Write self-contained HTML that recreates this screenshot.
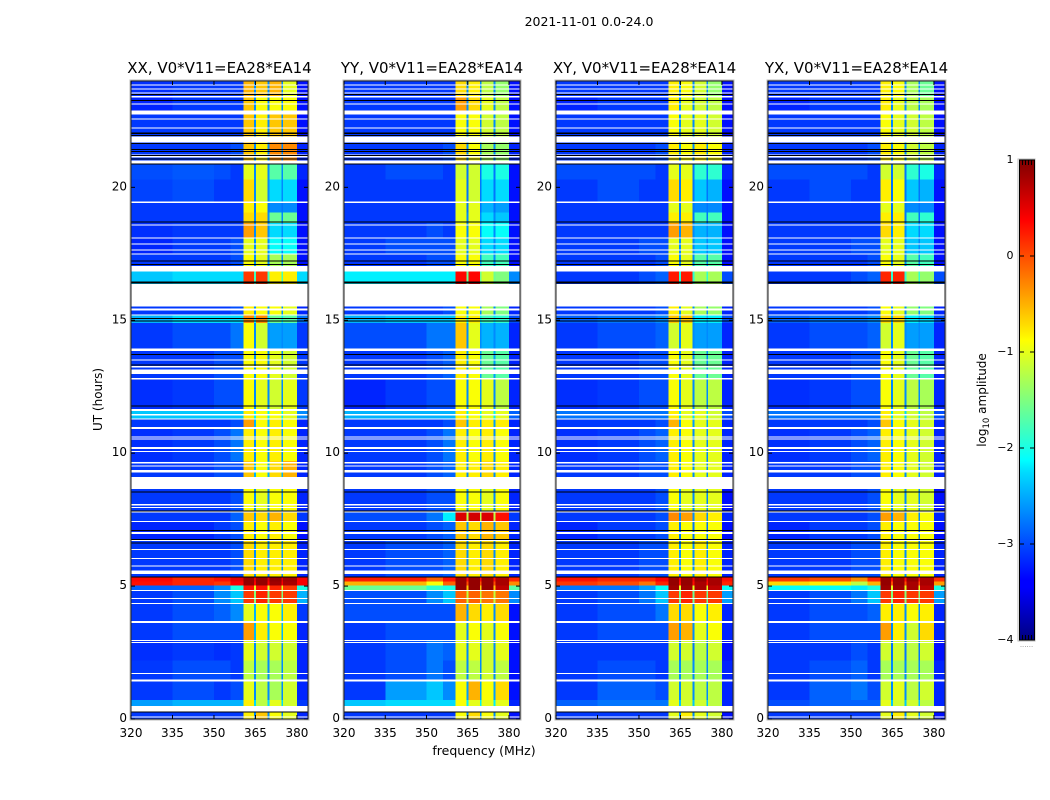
<!DOCTYPE html>
<html lang="en">
<head>
<meta charset="utf-8">
<title>2021-11-01 0.0-24.0</title>
<style>
html,body{margin:0;padding:0;background:#fff;width:1050px;height:800px;overflow:hidden}
svg{display:block}
text{font-family:"DejaVu Sans","Liberation Sans",sans-serif;fill:#000}
</style>
</head>
<body>
<svg id="figure" xmlns="http://www.w3.org/2000/svg" width="1050" height="800" viewBox="0 0 1050 800">
  <defs>
    <linearGradient id="jet-gradient" x1="0" y1="1" x2="0" y2="0">
      <stop offset="0" stop-color="#00007f"/>
      <stop offset="0.11" stop-color="#0000ff"/>
      <stop offset="0.125" stop-color="#0000ff"/>
      <stop offset="0.35" stop-color="#00dcfe"/>
      <stop offset="0.375" stop-color="#00ffff"/>
      <stop offset="0.5" stop-color="#7fff7f"/>
      <stop offset="0.625" stop-color="#ffff00"/>
      <stop offset="0.64" stop-color="#ffee00"/>
      <stop offset="0.875" stop-color="#ff0000"/>
      <stop offset="1" stop-color="#7f0000"/>
    </linearGradient>
  </defs>
  <text x="589" y="26" font-size="12.5" text-anchor="middle">2021-11-01 0.0-24.0</text>
  <text x="484" y="755" font-size="12.5" text-anchor="middle">frequency (MHz)</text>
  <text transform="translate(102,399.5) rotate(-90)" font-size="12" text-anchor="middle">UT (hours)</text>
  <g id="panels"></g>
  <g id="colorbar">
    <rect x="1018" y="159" width="17" height="482" fill="none" stroke="#bbb" stroke-width="1"/>
    <rect x="1019.5" y="160" width="15" height="480" fill="url(#jet-gradient)" stroke="#000" stroke-width="1"/>
    <text transform="translate(986,400) rotate(-90)" font-size="12" text-anchor="middle">log<tspan font-size="8.5" dy="3">10</tspan><tspan dy="-3"> amplitude</tspan></text>
    <text x="1026.5" y="647" font-size="7" text-anchor="middle" style="fill:#888">......</text>
  </g>
</svg>
<script>
/* Frequency segments (MHz): background, ramp, four RFI bands and the thin gaps between them */
const freqEdges = [320, 335, 350, 356, 360.6, 364.5, 365.2, 369.4, 370, 374.4, 375, 380, 384];
/* UT (hours) edges of the rows in the value tables below */
const rowEdges = [0, 0.38, 0.72, 1.45, 2.2, 2.93, 3.65, 4.34, 4.83, 5.02, 5.18, 5.35, 6.7, 7.41, 7.8, 8.9, 9.7, 10.92, 11.28, 11.62, 12.8, 13.9, 14.9, 15.2, 15.9, 16.84, 17.5, 18.1, 18.65, 19.05, 19.44, 20.3, 20.95, 21.8, 22.8, 23.44, 24];
const panelTitles = ["XX, V0*V11=EA28*EA14", "YY, V0*V11=EA28*EA14", "XY, V0*V11=EA28*EA14", "YX, V0*V11=EA28*EA14"];
const xTickLabels = [320, 335, 350, 365, 380];
const yTickLabels = [0, 5, 10, 15, 20];
const colorbarTicks = [1, 0, -1, -2, -3, -4];
/* log10 amplitude read per row: bg-left, bg-mid, bg-right, ramp, band A, gaps, band B, band C, band D, right edge */
const xxValues = [
[-3.1,-3.1,-3.1,-3.1,-.8,-2.7,-.6,-.9,-1,-3.2],
[-2.6,-2.5,-2.5,-2.5,-.8,-2.3,-1.2,-1,-1.1,-3.1],
[-3.1,-3,-3.1,-3,-1,-2.7,-1.2,-1.3,-1.1,-3.2],
[-3.1,-3,-3,-3.1,-1.2,-2.7,-1.3,-1.3,-1.2,-3.2],
[-3.15,-3.1,-3.15,-3.1,-1,-2.7,-1.1,-1.1,-1.1,-3.2],
[-3.1,-3,-3,-3,-.4,-2.5,-.8,-.9,-.9,-3.2],
[-3.1,-3,-2.9,-2.7,-1,-2.5,-.9,-.9,-.8,-3.1],
[-3.1,-3,-2.7,-2.4,.1,-1.5,.2,.1,.1,-2.5],
[-2.9,-2.9,-2.7,-2,.3,-1,.3,.2,.1,-2],
[.3,.2,.1,.4,.9,.4,.9,.85,.8,.4],
[.35,.2,.3,.5,.9,.5,.9,.9,.85,.4],
[-3.1,-3.1,-3.1,-3,-.7,-2.7,-.8,-.8,-.8,-3.2],
[-3.2,-3.2,-3.1,-3,-.8,-2.8,-.9,-.8,-.9,-3.3],
[-3.1,-3.1,-3.1,-2.9,-.6,-2.7,-.7,-.5,-.7,-3.1],
[-3.1,-3.1,-3.1,-3,-.9,-2.7,-1,-.9,-.9,-3.2],
[-3.1,-3.1,-3,-3,-.6,-2.5,-.9,-.7,-.5,-3.2],
[-3.15,-3.1,-3,-2.8,-.8,-2.7,-.9,-.8,-.9,-3.2],
[-3.1,-3.1,-3.1,-3,-.4,-2.5,-.9,-.8,-.9,-3.2],
[-2.4,-2.4,-2.4,-2.4,-.8,-2.2,-.9,-.9,-1,-2.7],
[-3.15,-3.1,-3,-3,-.9,-2.7,-1,-1.1,-1,-3.1],
[-3.1,-3.1,-3,-3,-.9,-2.7,-.9,-1,-1.1,-3.1],
[-3.1,-3,-3,-2.8,-.9,-2.7,-1.1,-2.6,-2.6,-3.1],
[-2.5,-2.3,-2.3,-2.3,-.3,-2.2,-.3,-1.6,-1.7,-2.8],
[-3.1,-3.1,-3.1,-3,-.8,-2.7,-.9,-.9,-1,-3.2],
[-2.4,-2.3,-2.3,-2.3,.1,-1.8,.1,-.8,-.8,-2.3],
[-3.1,-3.1,-3.1,-3,-.9,-2.7,-1,-1.3,-1.3,-3.3],
[-3.2,-3.1,-3.1,-3,-1,-2.7,-1,-2.1,-2.1,-3.3],
[-3.15,-3.1,-3.1,-3.1,-.4,-2.7,-.6,-2.3,-2.3,-3.3],
[-3.1,-3.1,-3.1,-3.1,-.7,-2.7,-.7,-1.6,-1.6,-3.3],
[-3.1,-3.1,-3.1,-3.1,-.8,-2.8,-.9,-2.7,-2.7,-3.3],
[-3.05,-3,-3.1,-3.1,-.7,-2.7,-1.1,-2.3,-2.3,-3.3],
[-3,-2.95,-3,-3.1,-1,-2.7,-1,-1.7,-1.7,-3.2],
[-3.1,-3.1,-3.1,-3,-.6,-2.7,-.8,-.3,-.3,-3.2],
[-3.1,-3.1,-3.1,-3.1,-.6,-2.7,-.8,-.6,-.6,-3.3],
[-3.2,-3.1,-3.1,-3.1,-.6,-2.7,-.9,-.9,-.9,-3.3],
[-3.15,-3.1,-3.1,-3.1,-.5,-2.7,-.6,-.5,-1,-3.3]
];
const yyValues = [
[-3.1,-3.1,-3.1,-3.1,-.9,-2.7,-.7,-.9,-1,-3.3],
[-2.4,-2.3,-2.3,-2.3,-.9,-2.2,-1,-1,-1,-3.2],
[-3.1,-2.6,-2.4,-2.7,-.9,-2.6,-.5,-.9,-.7,-3.3],
[-3.1,-3,-2.8,-3,-1.2,-2.7,-1.2,-1.1,-1.2,-3.3],
[-3.1,-3,-2.8,-2.9,-1,-2.7,-1,-1.1,-1,-3.3],
[-3.1,-3,-3,-3,-1,-2.7,-.9,-1,-.9,-3.3],
[-3,-3,-3,-3,-.5,-2.7,-.7,-.8,-.7,-3.3],
[-3,-3,-2.7,-2.4,-.1,-1.2,-.1,-.2,-.2,-2.7],
[-1.6,-1.6,-1.9,-2,.9,-.6,.9,.9,.7,-1.7],
[-.5,-.5,-.9,-.1,.9,0,.9,.9,.8,-.3],
[.25,.25,-.1,.3,.9,.3,.9,.9,.8,.2],
[-3.1,-3,-3,-2.9,-.7,-2.7,-.8,-.7,-.8,-3.2],
[-3.1,-3.1,-3,-2.9,-.6,-2.7,-.7,-.5,-.6,-3.2],
[-3,-3,-2.8,-2.2,.55,-1.2,.6,.55,.3,-3.1],
[-3.1,-3.1,-3,-3,-.9,-2.7,-.9,-1,-.9,-3.2],
[-3.1,-3.1,-3,-2.9,-.8,-2.7,-.8,-.7,-.8,-3.2],
[-3.1,-3.1,-3,-2.8,-.8,-2.7,-.9,-.8,-.9,-3.2],
[-3.1,-3.1,-3.1,-3,-.6,-2.6,-.8,-.8,-.8,-3.2],
[-2.5,-2.5,-2.5,-2.5,-.8,-2.2,-.9,-1,-1,-2.9],
[-3.2,-3.1,-3,-3,-.9,-2.7,-.9,-1,-1.2,-3.2],
[-3.1,-3.1,-3,-2.9,-.8,-2.6,-.9,-1.6,-1.7,-3.2],
[-3,-3,-2.8,-2.8,-.6,-2.7,-1,-2.5,-2.5,-3.2],
[-2.5,-2.4,-2.4,-2.4,-.8,-2.2,-.8,-1.8,-1.9,-3],
[-3.1,-3.1,-3.1,-3,-.9,-2.7,-.9,-1.3,-1.5,-3.2],
[-2.2,-2.2,-2.2,-2.2,.35,-1.6,.35,-1.1,-1.5,-2.7],
[-3.1,-3.1,-3,-3,-.9,-2.7,-.9,-1.8,-1.8,-3.3],
[-3.1,-3,-3,-3,-1,-2.7,-1,-2.3,-2.3,-3.3],
[-3.1,-3.1,-3,-3.1,-.9,-2.7,-.9,-2.1,-2.1,-3.3],
[-3.1,-3.1,-3.1,-3.1,-1,-2.7,-1,-2.3,-2.4,-3.3],
[-3.1,-3.1,-3.1,-3.1,-1,-2.8,-1,-2.5,-2.6,-3.3],
[-3.1,-3.1,-3.1,-3.1,-1,-2.8,-1.1,-2.3,-2.3,-3.3],
[-3.1,-3,-3,-3.1,-1.1,-2.8,-1.1,-2,-2,-3.3],
[-3.1,-3.1,-3.1,-3,-.7,-2.7,-.9,-1.3,-1.4,-3.2],
[-3.1,-3.1,-3.1,-3.1,-.9,-2.7,-.9,-1.1,-1.2,-3.3],
[-3.1,-3.1,-3.1,-3.1,-.4,-2.7,-.7,-1,-1.2,-3.3],
[-3.1,-3.1,-3.1,-3.1,-.7,-2.7,-.8,-1.2,-1.4,-3.3]
];
const xyValues = [
[-3.1,-3.1,-3.1,-3.1,-1,-2.7,-.8,-1,-1.1,-3.3],
[-2.9,-2.8,-2.8,-2.8,-1,-2.4,-1.1,-1.1,-1.2,-3.2],
[-3.1,-2.9,-2.9,-3,-1.1,-2.7,-1.1,-1.2,-1.2,-3.2],
[-3.1,-3,-3,-3.1,-1.3,-2.7,-1.3,-1.3,-1.3,-3.2],
[-3.1,-3.1,-3.1,-3.1,-1.1,-2.8,-1.1,-1.2,-1.1,-3.3],
[-3.1,-3,-3,-3,-.4,-2.7,-.5,-1,-.9,-3.2],
[-3.1,-3,-3,-2.8,-.7,-2.7,-.7,-.9,-.8,-3.2],
[-3.1,-3,-2.8,-2.4,.1,-1.6,.2,.1,.1,-2.6],
[-2.8,-2.8,-2.6,-2.1,.85,-1,.85,.8,.7,-2.1],
[.1,0,-.2,.2,.9,.3,.9,.8,.8,.2],
[.3,.2,.2,.4,.9,.4,.9,.9,.8,.3],
[-3.1,-3.1,-3,-3,-.8,-2.7,-.9,-.8,-.9,-3.2],
[-3.2,-3.1,-3.1,-3,-.8,-2.8,-.9,-.9,-.9,-3.3],
[-3.1,-3.1,-3.1,-3,-.3,-2.7,-.4,-.7,-.8,-3.2],
[-3.1,-3.1,-3.1,-3,-.9,-2.7,-1,-1,-1,-3.3],
[-3.1,-3.1,-3,-3,-.8,-2.7,-.9,-1,-1,-3.2],
[-3.15,-3.1,-3,-2.9,-.8,-2.7,-.9,-1,-1,-3.2],
[-3.1,-3.1,-3.1,-3,-.5,-2.6,-.9,-1,-1,-3.2],
[-2.8,-2.8,-2.8,-2.8,-.8,-2.3,-1,-1,-1.1,-3],
[-3.15,-3.1,-3,-3,-.9,-2.7,-1,-1.2,-1.2,-3.2],
[-3.1,-3.1,-3,-3,-.9,-2.7,-1,-1.6,-1.6,-3.2],
[-3.1,-3,-3,-2.9,-1.1,-2.7,-1,-2.6,-2.6,-3.2],
[-2.9,-2.8,-2.8,-2.7,-.6,-2.5,-.6,-2.2,-2.2,-3],
[-3.1,-3.1,-3.1,-3,-.8,-2.7,-1,-1.3,-1.4,-3.2],
[-3.1,-3.1,-3,-2.9,.25,-1.9,.25,-1.3,-1.3,-3],
[-3.1,-3.1,-3.1,-3,-.9,-2.7,-1,-1.7,-1.7,-3.3],
[-3.1,-3.1,-3,-3,-1,-2.7,-1,-2.4,-2.4,-3.3],
[-3.1,-3.1,-3.1,-3.1,-.4,-2.7,-.5,-2.5,-2.5,-3.3],
[-3.1,-3.1,-3.1,-3.1,-.8,-2.8,-.8,-1.8,-1.8,-3.3],
[-3.1,-3.1,-3.1,-3.1,-1,-2.8,-1,-2.7,-2.7,-3.3],
[-3.1,-3,-3.1,-3.1,-.7,-2.8,-.8,-2.4,-2.5,-3.3],
[-3,-3,-3,-3.1,-1,-2.8,-1,-1.9,-1.9,-3.2],
[-3.1,-3.1,-3.1,-3,-.8,-2.7,-.9,-.8,-.9,-3.2],
[-3.1,-3.1,-3.1,-3.1,-.9,-2.7,-1,-1,-1.1,-3.3],
[-3.2,-3.1,-3.1,-3.1,-.8,-2.7,-1,-1.1,-1.2,-3.3],
[-3.1,-3.1,-3.1,-3.1,-.8,-2.7,-.9,-1.1,-1.4,-3.3]
];
const yxValues = [
[-3.1,-3.1,-3.1,-3.1,-1,-2.7,-.8,-1,-1.1,-3.3],
[-3,-2.9,-2.9,-2.9,-1,-2.4,-1.1,-1.1,-1.2,-3.2],
[-3.1,-2.9,-2.8,-3,-1.1,-2.7,-1,-1.2,-1.1,-3.2],
[-3.1,-3,-2.9,-3.1,-1.3,-2.7,-1.3,-1.3,-1.3,-3.2],
[-3.1,-3.1,-3,-3.1,-1.1,-2.8,-1.1,-1.2,-1.1,-3.3],
[-3.1,-3,-3,-3,-.4,-2.7,-.8,-1.1,-.7,-3.2],
[-3.1,-3,-3,-2.9,-.8,-2.7,-.8,-.9,-.8,-3.2],
[-3.1,-3,-2.8,-2.4,.1,-1.5,.2,.1,.1,-2.6],
[-2.1,-2.1,-2.2,-2,.85,-1,.85,.8,.7,-2],
[-.7,-.8,-1.2,-.5,.9,0,.9,.8,.8,-.4],
[.1,0,-.3,.2,.9,.3,.9,.9,.8,.15],
[-3.1,-3.1,-3,-3,-.8,-2.7,-.9,-.9,-.9,-3.2],
[-3.2,-3.1,-3.1,-3,-.8,-2.8,-.9,-.9,-.9,-3.3],
[-3.1,-3.1,-3.1,-3,-.4,-2.7,-.5,-.8,-.9,-3.2],
[-3.1,-3.1,-3.1,-3,-.9,-2.7,-1,-1,-1.1,-3.3],
[-3.1,-3.1,-3,-3,-.8,-2.7,-.9,-1,-1.1,-3.2],
[-3.15,-3.1,-3,-2.9,-.8,-2.7,-.9,-1,-1.1,-3.2],
[-3.1,-3.1,-3.1,-3,-.6,-2.6,-.9,-1,-1.1,-3.2],
[-2.8,-2.8,-2.8,-2.8,-.8,-2.3,-1,-1.1,-1.2,-3],
[-3.15,-3.1,-3,-3,-.9,-2.7,-1,-1.2,-1.3,-3.2],
[-3.1,-3.1,-3,-3,-.9,-2.7,-1,-1.6,-1.7,-3.2],
[-3.1,-3,-3,-2.9,-1.1,-2.7,-1,-2.6,-2.6,-3.2],
[-2.9,-2.8,-2.8,-2.7,-.7,-2.5,-.7,-2.2,-2.3,-3],
[-3.1,-3.1,-3.1,-3,-.9,-2.7,-1,-1.4,-1.5,-3.2],
[-3.1,-3.1,-3,-2.9,.2,-1.9,.2,-1.3,-1.4,-3],
[-3.1,-3.1,-3.1,-3,-.9,-2.7,-1,-1.7,-1.8,-3.3],
[-3.1,-3.1,-3,-3,-1,-2.7,-1,-2.4,-2.4,-3.3],
[-3.1,-3.1,-3.1,-3.1,-.7,-2.7,-.8,-2.3,-2.3,-3.3],
[-3.1,-3.1,-3.1,-3.1,-.8,-2.8,-.8,-1.8,-1.9,-3.3],
[-3.1,-3.1,-3.1,-3.1,-1,-2.8,-1,-2.7,-2.7,-3.3],
[-3.1,-3,-3.1,-3.1,-.8,-2.8,-.9,-2.4,-2.5,-3.3],
[-3,-3,-3,-3.1,-1.1,-2.8,-1.1,-1.9,-2,-3.2],
[-3.1,-3.1,-3.1,-3,-.8,-2.7,-.9,-1.1,-1.2,-3.2],
[-3.1,-3.1,-3.1,-3.1,-.9,-2.7,-1,-1.1,-1.2,-3.3],
[-3.2,-3.1,-3.1,-3.1,-.8,-2.7,-1,-1.2,-1.3,-3.3],
[-3.1,-3.1,-3.1,-3.1,-.8,-2.7,-.9,-1.3,-1.6,-3.3]
];
/* Flagged (no data) UT intervals, lower then upper hour */
const flaggedRanges = [
[.06,.09],[.28,.49],[1.41,1.48],[1.69,1.73],[2.87,2.9],[2.93,2.97],[3.61,3.68],[4.32,4.36],[4.51,4.55],[4.81,4.85],
[5.45,5.58],[5.74,5.77],[6.01,6.05],[6.35,6.39],[6.69,6.73],[6.95,7.03],[7.41,7.44],[7.76,7.82],[7.93,7.97],[8.04,8.08],
[8.65,9.11],[9.28,9.36],[9.5,9.54],[9.62,9.66],[10.06,10.09],[10.15,10.19],[10.21,10.24],[10.53,10.56],[10.59,10.62],[10.9,10.94],
[10.97,10.99],[11.26,11.3],[11.41,11.48],[11.58,11.67],[12.78,12.82],[12.97,13.14],[13.23,13.27],[13.49,13.53],[13.85,13.93],[15.19,15.22],
[15.37,15.45],[15.52,16.37],[16.84,17.04],[17.48,17.52],[17.63,17.67],[17.86,17.89],[18.08,18.12],[18.57,18.61],[19.42,19.47],[20.9,21.01],
[21.13,21.24],[21.69,21.92],[22.22,22.25],[22.55,22.59],[22.74,22.89],[23.12,23.16],[23.38,23.44],[23.53,23.57],[23.68,23.72],[23.83,23.87]
];
/* Near-zero amplitude integrations drawn as black lines (UT hours) */
const darkLines = [0.27, 5.34, 6.63, 6.75, 7.1, 7.82, 8.53, 11.78, 13.31, 13.71, 14.98, 15.07, 16.4, 16.43, 17.1, 17.22, 18.69, 20.88, 21.07, 21.2, 21.35, 21.43, 21.65, 21.95, 22.02, 22.05, 23.27, 23.49];

const panelValues = [xxValues, yyValues, xyValues, yxValues];
const segmentColumn = [0, 1, 2, 3, 4, 5, 6, 5, 7, 5, 8, 9];
const panelLefts = [131, 344, 556, 768];
const panelWidths = [177, 176, 177, 177];
const plotTop = 81, plotBottom = 719, freqMin = 320, freqMax = 384, utMax = 24;
const SVGNS = 'http://www.w3.org/2000/svg';

function make(tag, attrs, parent, content) {
  const el = document.createElementNS(SVGNS, tag);
  for (const k in attrs) el.setAttribute(k, attrs[k]);
  if (content !== undefined) el.textContent = content;
  parent.appendChild(el);
  return el;
}
function yScale(t) { return plotBottom - (t / utMax) * (plotBottom - plotTop); }
function xScale(f, p) { return panelLefts[p] + (f - freqMin) / (freqMax - freqMin) * panelWidths[p]; }
function jetChannel(d) { return Math.max(0, Math.min(1, 1.5 - Math.abs(d))); }
function jet(v) {
  const n = Math.max(0, Math.min(1, (v + 4) / 5));
  const r = jetChannel(4 * n - 3), g = jetChannel(4 * n - 2), b = jetChannel(4 * n - 1);
  return 'rgb(' + Math.round(r * 255) + ',' + Math.round(g * 255) + ',' + Math.round(b * 255) + ')';
}

const panelsGroup = document.getElementById('panels');
panelValues.forEach(function (values, p) {
  const panel = make('g', {}, panelsGroup);
  
  
  const left = xScale(freqMin, p), right = xScale(freqMax, p);

  values.forEach(function (row, r) {
    segmentColumn.forEach(function (col, s) {
      const x0 = xScale(freqEdges[s], p), x1 = xScale(freqEdges[s + 1], p);
      const y0 = yScale(rowEdges[r + 1]), y1 = yScale(rowEdges[r]);
      const cell = make('rect', { x: x0, y: y0, width: x1 - x0, height: y1 - y0, fill: jet(row[col]), 'shape-rendering': 'crispEdges' }, panel);
      
      
    });
  });

  flaggedRanges.forEach(function (range) {
    const y0 = yScale(range[1]), y1 = yScale(range[0]);
    const flag = make('rect', { x: left, y: y0, width: right - left, height: Math.max(1, y1 - y0), fill: '#fff', 'shape-rendering': 'crispEdges' }, panel);
    
    
  });

  darkLines.forEach(function (t) {
    const line = make('rect', { x: left, y: yScale(t) - 0.5, width: right - left, height: 1, fill: '#000', 'shape-rendering': 'crispEdges' }, panel);
    
    
  });

  const halo = make('rect', { x: left - 1, y: plotTop - 1, width: right - left + 2, height: plotBottom - plotTop + 2, fill: 'none', stroke: '#bbb', 'stroke-width': 1 }, panel);
  
  
  const frame = make('rect', { x: left, y: plotTop, width: right - left, height: plotBottom - plotTop, fill: 'none', stroke: '#222', 'stroke-width': 1 }, panel);
  
  

  xTickLabels.forEach(function (f) {
    const x = xScale(f, p);
    const tickBottom = make('line', { x1: x, x2: x, y1: plotBottom, y2: plotBottom - 4, stroke: '#000' }, panel);
    
    
    const tickTop = make('line', { x1: x, x2: x, y1: plotTop, y2: plotTop + 4, stroke: '#000' }, panel);
    
    
    const label = make('text', { x: x, y: 737, 'font-size': 12, 'text-anchor': 'middle' }, panel, String(f));
    
    
  });

  yTickLabels.forEach(function (t) {
    const y = yScale(t);
    const tickLeft = make('line', { x1: left, x2: left + 4, y1: y, y2: y, stroke: '#000' }, panel);
    
    
    const tickRight = make('line', { x1: right, x2: right - 4, y1: y, y2: y, stroke: '#000' }, panel);
    
    
    const label = make('text', { x: left - 4, y: y + 3, 'font-size': 12, 'text-anchor': 'end' }, panel, String(t));
    
    
  });

  const title = make('text', { x: left + (right - left) / 2, y: 73, 'font-size': 15, 'text-anchor': 'middle' }, panel, panelTitles[p]);
  
  
});

/* Colorbar ticks */
const colorbarGroup = document.getElementById('colorbar');
function cbY(v) { return 640 - (v + 4) / 5 * 480; }
colorbarTicks.forEach(function (v) {
  const y = cbY(v);
  const leftTick = make('line', { x1: 1019.5, x2: 1024, y1: y, y2: y, stroke: '#000' }, colorbarGroup);
  
  
  const rightTick = make('line', { x1: 1034.5, x2: 1030, y1: y, y2: y, stroke: '#000' }, colorbarGroup);
  
  
  const label = make('text', { x: 1013.5, y: y + 3, 'font-size': 11, 'text-anchor': 'end' }, colorbarGroup, (v < 0 ? '\u2212' + Math.abs(v) : String(v)));
  
  
});
[1022.5, 1025.5, 1028.5, 1031.5].forEach(function (x) {
  const topMinor = make('line', { x1: x, x2: x, y1: 160, y2: 165, stroke: '#000' }, colorbarGroup);
  
  
  const bottomMinor = make('line', { x1: x, x2: x, y1: 640, y2: 635, stroke: '#000' }, colorbarGroup);
  
  
});
</script>
</body>
</html>
